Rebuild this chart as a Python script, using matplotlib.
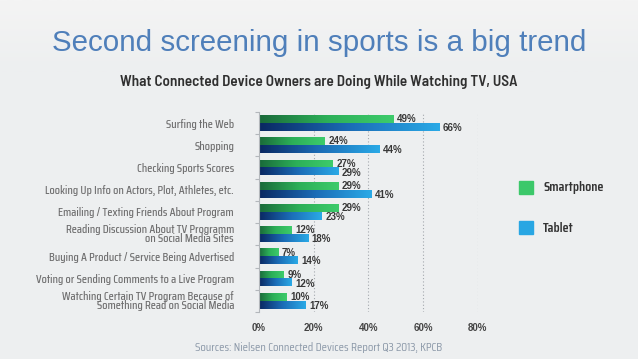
import matplotlib
matplotlib.use('Agg')
import numpy as np
import matplotlib.pyplot as plt
from matplotlib import font_manager
from matplotlib.colors import LinearSegmentedColormap

categories = ['Surfing the Web', 'Shopping', 'Checking Sports Scores',
              'Looking Up Info on Actors, Plot, Athletes, etc.',
              'Emailing / Texting Friends About Program',
              'Reading Discussion About TV Programm\non Social Media Sites',
              'Buying A Product / Service Being Advertised',
              'Voting or Sending Comments to a Live Program',
              'Watching Certain TV Program Because of\nSomething Read on Social Media']
smartphone = [49, 24, 27, 29, 29, 12, 7, 9, 10]
tablet = [66, 44, 29, 41, 23, 18, 14, 12, 17]
xticks = [0, 20, 40, 60, 80]

have = set(f.name for f in font_manager.fontManager.ttflist)
def pick(cands):
    for c in cands:
        if c in have:
            return c
    return 'DejaVu Sans'

cond = pick(['Saira Condensed', 'Roboto Condensed', 'Asap Condensed', 'Archivo Narrow'])
sub_font = pick(['Barlow Semi Condensed', 'Saira Condensed', 'Roboto Condensed'])
title_font = pick(['Liberation Sans', 'Arimo', 'Roboto'])
num_font = pick(['Liberation Sans', 'Arimo', 'DejaVu Sans'])

green_cm = LinearSegmentedColormap.from_list('g', ['#1a6a3a', '#2caf58', '#3dcb6b'])
blue_cm = LinearSegmentedColormap.from_list('b', ['#0a2862', '#1b6cb6', '#2aa9e6'])

fig = plt.figure(figsize=(6.38, 3.59), dpi=100)
fig.patch.set_facecolor('#edeff0')
band = fig.add_axes([0, 0.80, 1, 0.20])
band.imshow(np.linspace(0, 1, 50).reshape(-1, 1), cmap=LinearSegmentedColormap.from_list(
    'h', ['#f4f4f4', '#edeff0']), aspect='auto', extent=[0, 1, 0, 1])
band.axis('off')

renderer = fig.canvas.get_renderer()
def fit(t, target_px):
    w = t.get_window_extent(renderer).width
    t.set_fontsize(t.get_fontsize() * target_px / w)

t1 = fig.text(0.5, 0.88, 'Second screening in sports is a big trend', ha='center', va='center',
              fontsize=21, color='#4f7fba', family=title_font)
fit(t1, 532)
t2 = fig.text(0.5, 0.772, 'What Connected Device Owners are Doing While Watching TV, USA',
              ha='center', va='center', fontsize=10.5, color='#303030', family=sub_font,
              weight='semibold')
fit(t2, 396)
t3 = fig.text(0.5, 0.033, 'Sources: Nielsen Connected Devices Report Q3 2013, KPCB', ha='center',
              va='center', fontsize=8.5, color='#8b98a8', family=cond)
fit(t3, 245)

ax = fig.add_axes([0.406, 0.131, 0.343, 0.557])
ax.set_facecolor('none')
y = np.arange(len(categories))
h = 0.35

def grad_bars(vals, offs, cmap):
    bars = ax.barh(y + offs, vals, height=h, color='none', edgecolor='none')
    for b, v in zip(bars, vals):
        x0, y0 = b.get_x(), b.get_y()
        ax.imshow(np.linspace(0, 1, 64).reshape(1, -1), cmap=cmap, aspect='auto',
                  extent=[x0, x0 + v, y0 + h, y0], zorder=2, interpolation='bilinear')
    return bars

grad_bars(smartphone, -h / 2, green_cm)
grad_bars(tablet, h / 2, blue_cm)
ax.set_xlim(0, 80)
ax.set_ylim(len(categories) - 0.5, -0.5)

for i in range(len(categories)):
    ax.text(smartphone[i] + 1.3, y[i] - h / 2, '%d%%' % smartphone[i], va='center',
            ha='left', fontsize=7, weight='bold', color='#383838', family=num_font, zorder=3)
    ax.text(tablet[i] + 1.3, y[i] + h / 2 + 0.05, '%d%%' % tablet[i], va='center',
            ha='left', fontsize=7, weight='bold', color='#383838', family=num_font, zorder=3)

for gx in xticks[1:]:
    ax.axvline(gx, color='#a4a8ad', lw=0.8, ls=(0, (1, 2)), zorder=0)

for s in ['top', 'right', 'bottom']:
    ax.spines[s].set_visible(False)
ax.spines['left'].set_color('#b3b7bb')
ax.spines['left'].set_linewidth(0.8)

ax.set_xticks(xticks)
ax.set_xticklabels(['%d%%' % t for t in xticks], fontsize=7, weight='bold', color='#444444',
                   family=num_font)
ax.tick_params(axis='x', length=0, pad=8)
ax.set_yticks(y)
ax.set_yticklabels(categories, fontsize=8.6, color='#6f6f6f', family=cond, weight='medium',
                   linespacing=0.8)
ax.tick_params(axis='y', length=0, pad=18)
ax.set_yticks(np.arange(len(categories) + 1) - 0.5, minor=True)
ax.tick_params(axis='y', which='minor', length=3, color='#b3b7bb', width=0.8)

lax = fig.add_axes([0, 0, 1, 1])
lax.set_xlim(0, 638)
lax.set_ylim(359, 0)
lax.axis('off')
lax.add_patch(plt.Rectangle((519, 181), 14, 13, color='#3cc86a'))
lax.add_patch(plt.Rectangle((519, 221), 14, 13, color='#28a6e3'))
lax.text(543, 188, 'Smartphone', va='center', ha='left', fontsize=10, color='#333333',
         family=cond, weight='semibold')
lax.text(543, 228, 'Tablet', va='center', ha='left', fontsize=10, color='#333333',
         family=cond, weight='semibold')

fig.savefig('out.png', dpi=100, facecolor=fig.get_facecolor())
